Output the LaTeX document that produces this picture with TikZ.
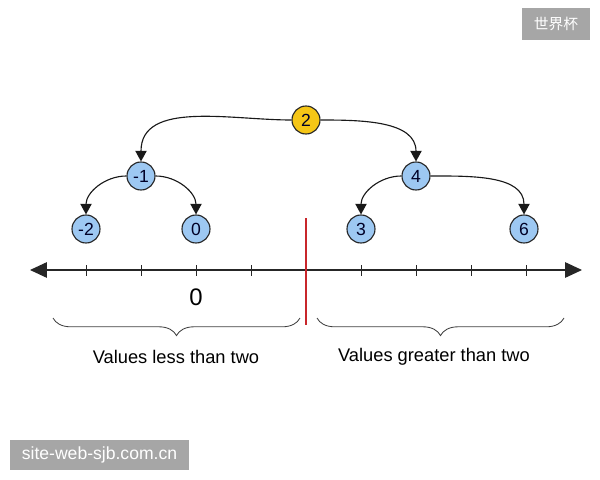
\documentclass[tikz,border=0pt]{standalone}
\usepackage{fontspec}
\setmainfont{Liberation Sans}
\newfontfamily\cjkfont{Noto Sans CJK SC}
\usepackage{xcolor}
\usepackage{tikz}
\usetikzlibrary{arrows.meta,positioning,decorations.pathreplacing}
\definecolor{nodeblue}{HTML}{9DC8F2}
\definecolor{rootgold}{HTML}{F6C616}
\definecolor{markgray}{HTML}{A6A6A6}
\definecolor{splitred}{HTML}{C8262B}

\begin{document}
\begin{tikzpicture}[x=0.025cm, y=-0.025cm,
    valnode/.style={circle, draw=black!85, fill=nodeblue, line width=0.8pt,
      minimum size=0.7cm, inner sep=0pt, text=black!85!blue,
      font=\fontsize{12.5}{14}\selectfont},
    link/.style={-{Triangle[width=8pt,length=7.5pt]}, line width=0.8pt, black!90},
    curly/.style={decorate, decoration={brace, mirror, amplitude=12.5pt},
      line width=0.6pt, black!75},
    stamp/.style={fill=markgray, text=white, inner sep=0pt}]
  \useasboundingbox (0,0) rectangle (600,480);

  \node[valnode, fill=rootgold] (n2) at (306,120) {2};
  \node[valnode] (nm1) at (141,176) {-1};
  \node[valnode] (n4) at (416,176) {4};
  \node[valnode] (nm2) at (86,229) {-2};
  \node[valnode] (n0) at (196,229) {0};
  \node[valnode] (n3) at (361,229) {3};
  \node[valnode] (n6) at (524,229) {6};

  \draw[link] (n2.west) to[out=180,in=90] (nm1.north);
  \draw[link] (n2.east) to[out=0,in=90] (n4.north);
  \draw[link] (nm1.west) to[out=180,in=90] (nm2.north);
  \draw[link] (nm1.east) to[out=0,in=90] (n0.north);
  \draw[link] (n4.west) to[out=180,in=90] (n3.north);
  \draw[link] (n4.east) to[out=0,in=90] (n6.north);

  \coordinate (axl) at (30,270);
  \coordinate (axr) at (582,270);
  \draw[{Triangle[width=11pt,length=12pt]}-{Triangle[width=11pt,length=12pt]},
    line width=0.8pt, black!85] (axl) -- (axr);
  \foreach \x in {86,141,196,251,361,416,471,526}
    \draw[line width=0.6pt, black!85] (\x,265) -- (\x,276);
  \draw[splitred, line width=1.4pt] (306,218) -- (306,325);
  \node[font=\fontsize{17}{19}\selectfont] (zero) at (196,297) {0};

  \coordinate (lbl) at (53,318);
  \coordinate (lbr) at (300,318);
  \coordinate (rbl) at (317,318);
  \coordinate (rbr) at (564,318);
  \draw[curly] (lbl) -- (lbr);
  \draw[curly] (rbl) -- (rbr);
  \node[font=\fontsize{13}{15}\selectfont] (less) at (176,357) {Values less than two};
  \node[font=\fontsize{13}{15}\selectfont] (more) at (434,357) {Values greater than two};

  \node[stamp, minimum width=1.7cm, minimum height=0.8cm,
    font=\cjkfont\fontsize{10.5}{12}\selectfont] (cup) at (556,24) {世界杯};
  \node[stamp, minimum width=4.475cm, minimum height=0.75cm,
    font=\fontsize{12.5}{14}\selectfont] (site) at (99.5,455) {site-web-sjb.com.cn};
\end{tikzpicture}
\end{document}
